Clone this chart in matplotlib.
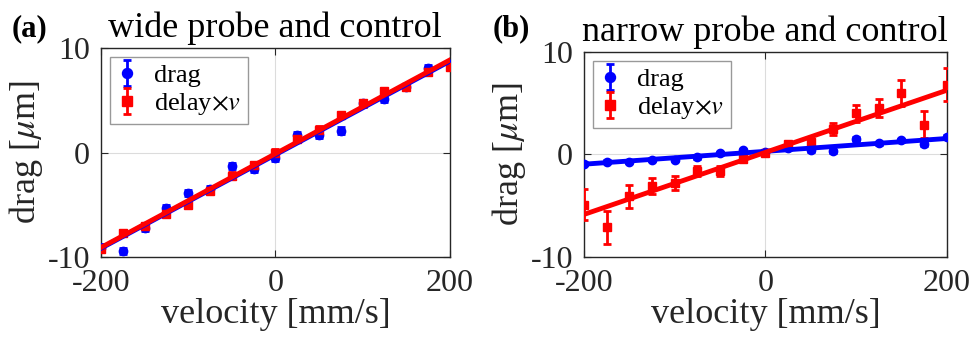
import numpy as np
import matplotlib.pyplot as plt

plt.rcParams['font.family'] = ['Liberation Serif', 'DejaVu Serif']
plt.rcParams['mathtext.fontset'] = 'stix'

# velocidades (mm/s)
velocity = [-200, -175, -150, -125, -100, -75, -50, -25, 0,
            25, 50, 75, 100, 125, 150, 175, 200]

# painel (a): sonda larga
drag_a = [-9.1, -9.4, -7.2, -5.3, -3.9, -3.5, -1.3, -1.6, -0.5,
          1.7, 1.7, 2.1, 4.7, 5.1, 6.3, 8.1, 8.5]
drag_a_err = [0.3] * 17
delay_a = [-9.2, -7.7, -7.0, -5.9, -5.0, -3.7, -2.2, -1.2, 0.0,
           1.3, 2.2, 3.6, 4.7, 5.9, 6.3, 7.7, 8.2]
delay_a_err = [0.3] * 17

# painel (b): sonda estreita
drag_b = [-0.9, -0.7, -0.7, -0.5, -0.5, -0.3, 0.1, 0.4, 0.2,
          0.6, 0.4, 0.3, 1.5, 1.1, 1.4, 1.0, 1.7]
drag_b_err = [0.15] * 17
delay_b = [-4.9, -7.1, -4.1, -3.1, -2.8, -1.6, -1.6, -0.4, 0.1,
           1.0, 1.2, 2.5, 4.0, 4.5, 6.0, 2.9, 6.8]
delay_b_err = [1.5, 1.6, 1.1, 0.8, 0.7, 0.5, 0.5, 0.2, 0.1,
               0.2, 0.3, 0.6, 0.8, 0.9, 1.3, 1.3, 1.6]

panels = [
    ('(a)', 'wide probe and control', drag_a, drag_a_err, delay_a, delay_a_err,
     [0.1037, 0.242, 0.358, 0.616], 12),
    ('(b)', 'narrow probe and control', drag_b, drag_b_err, delay_b, delay_b_err,
     [0.5996, 0.242, 0.3724, 0.605], 493),
]

fig = plt.figure(figsize=(9.74, 3.39), dpi=100)
x = np.array(velocity)
xx = np.array([-200, 200])

for letra, titulo, dr, dre, de, dee, pos, letra_x in panels:
    ax = fig.add_axes(pos)
    ax.errorbar(x, dr, yerr=dre, fmt='o', color='b', ms=6, elinewidth=2,
                capsize=3, capthick=2, label='drag', zorder=3)
    ax.errorbar(x, de, yerr=dee, fmt='s', color='r', ms=5.5, elinewidth=2,
                capsize=3, capthick=2, label=r'delay$\times v$', zorder=3)
    # ajustes lineares
    p1 = np.polyfit(x, dr, 1)
    p2 = np.polyfit(x, de, 1)
    ax.plot(xx, np.polyval(p1, xx), color='b', lw=3.5, zorder=4)
    ax.plot(xx, np.polyval(p2, xx), color='r', lw=3.5, zorder=5)

    ax.set_xlim(-200, 200)
    ax.set_ylim(-10, 10)
    ax.set_xticks([-200, 0, 200])
    ax.set_yticks([-10, 0, 10])
    ax.set_xticklabels(['-200', '0', '200'])
    ax.set_yticklabels(['-10', '0', '10'])
    ax.grid(True, color='#dcdcdc', lw=0.8, zorder=0)
    ax.tick_params(direction='in', top=True, right=True, labelsize=23,
                   colors='#262626', length=5)
    ax.tick_params(axis='x', pad=9)
    ax.tick_params(axis='y', pad=8)
    for s in ax.spines.values():
        s.set_color('#262626')
        s.set_linewidth(1)
    ax.set_xlabel('velocity [mm/s]', fontsize=26, color='#262626', labelpad=0)
    ax.set_ylabel(r'drag [$\mu$m]', fontsize=26, color='#262626', labelpad=2)
    ax.set_title(titulo, fontsize=26, pad=8)
    fig.text(letra_x / 974, 1 - 14 / 339, letra, fontsize=22,
             fontweight='bold', va='top')
    leg = ax.legend(loc='upper left', fontsize=19, frameon=True, fancybox=False,
                    handlelength=0.8, handletextpad=0.6, borderpad=0.25,
                    labelspacing=0.15, borderaxespad=0.35, markerscale=1.2)
    leg.get_frame().set_edgecolor('#808080')
    leg.get_frame().set_linewidth(1)

fig.savefig('out.png', dpi=100)
